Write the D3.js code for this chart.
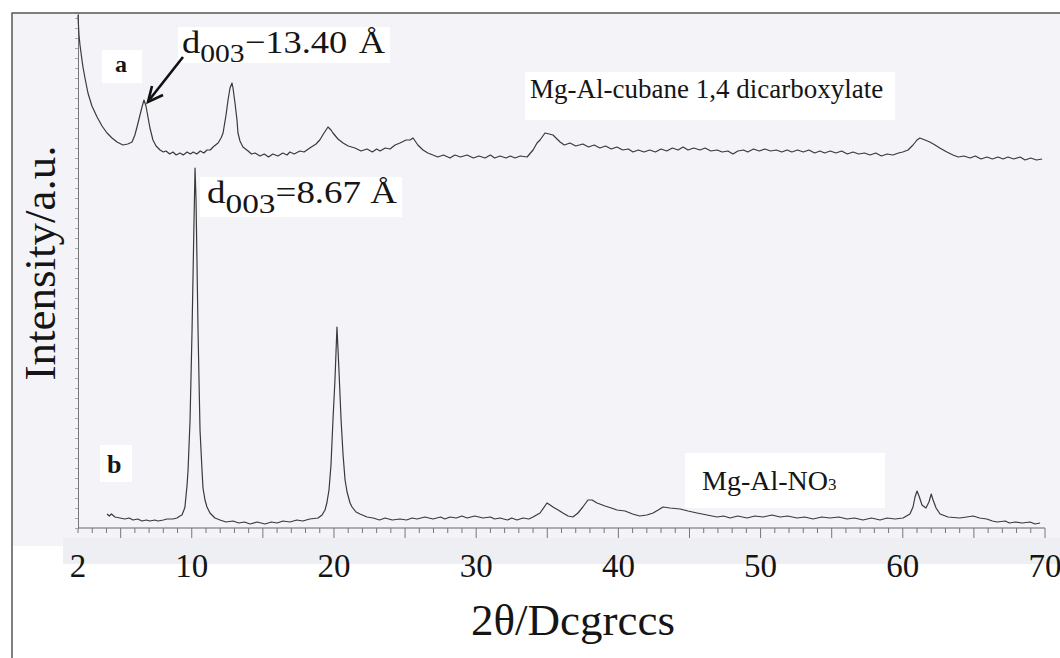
<!DOCTYPE html>
<html>
<head>
<meta charset="utf-8">
<script src="https://cdn.jsdelivr.net/npm/d3@7"></script>
<style>
  body { margin: 0; background: #fff; }
  svg { display: block; }
  text { font-family: "Liberation Serif", "Times New Roman", serif; fill: #151515; }
</style>
</head>
<body>
<div id="chart"></div>
<script>
// XRD pattern a : Mg-Al-cubane 1,4 dicarboxylate  [2theta, intensity a.u.]
var patternA = [
  [2.0,513],[2.02,506],[2.07,493],[2.14,483],[2.28,468],[2.35,461],[2.49,450],[2.70,435],[2.98,422],
  [3.34,411],[3.69,402],[4.04,395],[4.39,390],[4.74,386],[5.16,383],[5.5,384],[5.8,386],[6.0,393],
  [6.15,401],[6.36,413],[6.5,421],[6.64,428],[6.78,422],[6.92,411],[7.06,400],[7.27,388],[7.49,382],
  [7.77,378],[8.0,376],[8.19,377],[8.45,374],[8.68,376],[8.9,373],[9.17,375],[9.4,373],[9.67,376],
  [9.9,374],[10.1,376],[10.35,374],[10.6,377],[10.85,375],[11.07,378],[11.3,378],[11.5,381],
  [11.85,385],[12.06,390],[12.2,395],[12.41,413],[12.55,428],[12.69,440],[12.83,445],[12.9,440],
  [13.04,425],[13.18,408],[13.25,395],[13.39,387],[13.6,381],[13.96,377],[14.2,374],[14.45,375],
  [14.8,372],[15.1,374],[15.4,371],[15.7,374],[16.06,372],[16.4,375],[16.7,373],[16.9,376],[17.2,374],
  [17.6,377],[17.9,376],[18.3,380],[18.74,384],[19.0,388],[19.3,395],[19.58,401],[19.79,398],
  [19.93,395],[20.28,389],[20.64,385],[21.0,382],[21.48,380],[21.9,377],[22.32,379],[22.7,376],
  [23.0,379],[23.24,377],[23.6,380],[23.94,379],[24.3,383],[24.64,385],[25.07,388],[25.35,388],
  [25.56,390],[25.9,383],[26.26,378],[26.6,375],[26.96,373],[27.3,371],[27.7,373],[28.16,370],
  [28.5,373],[28.9,371],[29.36,373],[29.8,370],[30.2,372],[30.62,370],[31.0,373],[31.3,370],
  [31.68,372],[32.1,370],[32.4,372],[32.73,370],[33.1,372],[33.58,371],[34.0,378],[34.28,385],
  [34.49,388],[34.84,395],[35.13,394],[35.4,393],[35.9,386],[36.2,383],[36.6,385],[37.0,382],
  [37.5,384],[37.9,381],[38.3,383],[38.7,380],[39.1,382],[39.5,379],[39.9,381],[40.3,378],
  [40.7,379],[41.03,376],[41.4,378],[41.8,376],[42.2,378],[42.6,376],[43.0,379],[43.4,377],
  [43.8,380],[44.2,378],[44.55,381],[44.9,378],[45.3,380],[45.74,378],[46.1,380],[46.5,377],
  [46.94,378],[47.3,376],[47.7,377],[48.06,374],[48.4,377],[48.8,378],[49.1,376],[49.5,379],
  [49.9,377],[50.3,379],[50.7,377],[51.1,378],[51.5,376],[51.86,378],[52.2,376],[52.6,378],
  [53.0,376],[53.4,378],[53.8,375],[54.18,377],[54.5,375],[54.9,377],[55.3,375],[55.7,377],
  [56.1,374],[56.5,376],[56.9,374],[57.3,375],[57.7,373],[58.1,375],[58.5,372],[58.9,374],
  [59.3,373],[59.7,375],[60.0,376],[60.37,378],[60.72,383],[61.0,388],[61.2,390],[61.56,388],
  [61.9,386],[62.27,383],[62.6,380],[63.1,376],[63.53,373],[63.9,371],[64.3,372],[64.73,370],
  [65.1,372],[65.5,369],[65.92,371],[66.3,369],[66.7,371],[67.05,369],[67.4,371],[67.8,369],
  [68.25,371],[68.6,368],[69.0,370],[69.4,368],[69.8,369]
];

// XRD pattern b : Mg-Al-NO3
var patternB = [
  [4.04,14],[4.2,12],[4.35,14],[4.6,11],[4.95,10],[5.3,9],[5.6,10],[5.87,8],[6.2,9],[6.5,7],
  [6.8,8],[7.06,7],[7.4,8],[7.63,7],[8.0,8],[8.26,9],[8.68,9],[8.96,10],[9.17,12],[9.31,13],
  [9.45,18],[9.52,21],[9.67,43],[9.74,58],[9.88,108],[10.02,198],[10.16,308],[10.23,360],[10.3,328],
  [10.44,198],[10.58,98],[10.72,58],[10.79,40],[10.93,28],[11.07,21],[11.28,15],[11.63,10],[11.99,8],
  [12.4,6],[12.9,7],[13.3,5],[13.7,6],[14.1,4],[14.6,6],[15.15,4],[15.6,6],[16.0,5],[16.42,7],
  [16.9,6],[17.4,8],[17.8,7],[18.3,9],[18.88,10],[19.16,13],[19.37,18],[19.5,25],[19.65,38],
  [19.79,63],[19.93,108],[20.07,148],[20.21,201],[20.35,158],[20.5,108],[20.64,73],[20.78,48],
  [20.92,36],[21.13,25],[21.27,21],[21.55,16],[21.83,14],[22.32,11],[22.75,10],[23.2,8],[23.6,10],
  [24.1,8],[24.64,9],[25.1,8],[25.5,10],[25.84,9],[26.4,11],[26.96,9],[27.5,11],[27.8,9],[28.16,11],
  [28.6,10],[29.0,12],[29.36,10],[29.9,12],[30.48,10],[31.0,11],[31.3,9],[31.68,10],[32.2,8],
  [32.5,10],[32.87,8],[33.3,10],[33.7,9],[34.0,11],[34.49,15],[34.98,25],[35.2,23],[35.4,21],
  [35.76,18],[36.1,15],[36.46,12],[36.8,11],[37.16,15],[37.5,21],[37.86,28],[38.15,28],[38.5,25],
  [39.06,22],[39.5,20],[39.9,18],[40.47,17],[41.0,14],[41.5,12],[42.0,13],[42.44,15],[42.8,18],
  [43.14,21],[43.63,20],[44.34,19],[44.9,17],[45.53,15],[46.23,13],[46.94,11],[47.4,12],[47.85,10],
  [48.4,12],[49.05,10],[49.6,12],[50.17,11],[50.8,13],[51.37,11],[51.9,12],[52.56,10],[53.1,11],
  [53.69,9],[54.3,11],[54.88,10],[55.5,11],[56.08,9],[56.6,10],[57.2,8],[57.8,10],[58.4,8],
  [58.9,10],[59.45,9],[60.02,10],[60.5,14],[60.72,21],[60.86,31],[61.0,37],[61.14,32],[61.35,23],
  [61.63,20],[61.84,26],[62.0,34],[62.13,28],[62.34,20],[62.62,14],[63.18,11],[64.0,10],[64.5,11],
  [64.94,12],[65.4,10],[65.9,9],[66.3,7],[66.63,6],[67.2,7],[67.5,5],[67.9,6],[68.4,5],[68.95,6],
  [69.3,4],[69.65,5]
];

var xTickLabels = [2, 10, 20, 30, 40, 50, 60, 70];
var xTitle = "2\u03B8/Dcgrccs";
var yTitle = "Intensity/a.u.";

var width = 1060, height = 658;

var svg = d3.select("#chart").append("svg")
    .attr("width", width).attr("height", height);

var x = d3.scaleLinear().domain([2, 70]).range([78, 1045]);
var y = d3.scaleLinear().domain([0, 515]).range([528, 13]);

// scanned page background
svg.append("rect").attr("x", 13).attr("y", 14).attr("width", width - 13).attr("height", 532)
    .attr("fill", "#f4f4f8");
svg.append("rect").attr("x", 63).attr("y", 538).attr("width", width - 63).attr("height", 26)
    .attr("fill", "#eeeff2");

// frame (top + left)
svg.append("path").attr("d", "M12,658 V13 H1060")
    .attr("fill", "none").attr("stroke", "#555").attr("stroke-width", 1.5);

// x axis : minor every degree, major every 5
var xAxisG = svg.append("g").attr("transform", "translate(0," + y(0) + ")");
xAxisG.append("line").attr("x1", x(2)).attr("x2", x(70)).attr("stroke", "#666").attr("stroke-width", 1);
xAxisG.selectAll("line.tk").data(d3.range(2, 71)).enter().append("line")
    .attr("class", "tk")
    .attr("x1", function(d) { return x(d); }).attr("x2", function(d) { return x(d); })
    .attr("y1", 0).attr("y2", function(d) { return d % 5 == 0 ? 10 : 5; })
    .attr("stroke", "#777").attr("stroke-width", 1);

svg.selectAll("text.xtl").data(xTickLabels).enter().append("text")
    .attr("class", "xtl")
    .attr("x", function(d) { return x(d); }).attr("y", 577)
    .attr("text-anchor", "middle").attr("font-size", 33)
    .text(function(d) { return d; });

// y axis with small ticks, no labels
var yAxis = d3.axisLeft(y).tickValues(d3.range(0, 516, 10)).tickSize(3).tickFormat("");
var yAxisG = svg.append("g").attr("transform", "translate(" + x(2) + ",0)").call(yAxis);
yAxisG.select(".domain").attr("stroke", "#777");
yAxisG.selectAll(".tick line").attr("stroke", "#aaa");

// axis titles
svg.append("text").attr("x", 573).attr("y", 635).attr("text-anchor", "middle")
    .attr("font-size", 45).text(xTitle);
svg.append("text").attr("transform", "translate(55,263) rotate(-90)")
    .attr("text-anchor", "middle").attr("font-size", 45).text(yTitle);

// the two patterns
var line = d3.line().x(function(d) { return x(d[0]); }).y(function(d) { return y(d[1]); });
[patternA, patternB].forEach(function(p) {
    svg.append("path").datum(p).attr("d", line)
        .attr("fill", "none").attr("stroke", "#3a3a3a").attr("stroke-width", 1.2)
        .attr("stroke-linejoin", "round");
});

// white label boxes
function box(x0, y0, w, h) {
    svg.append("rect").attr("x", x0).attr("y", y0).attr("width", w).attr("height", h).attr("fill", "#fff");
}
box(102, 50, 40, 33);
box(100, 445, 32, 37);
box(178, 27, 212, 36);
box(200, 177, 202, 40);
box(525, 72, 370, 48);
box(685, 453, 200, 55);

svg.append("text").attr("x", 115).attr("y", 72).attr("font-size", 24).attr("font-weight", "bold").text("a");
svg.append("text").attr("x", 107).attr("y", 473).attr("font-size", 26).attr("font-weight", "bold").text("b");

// d-spacing labels
var t1 = svg.append("text").attr("x", 182).attr("y", 53).attr("font-size", 32)
    .attr("textLength", 203).attr("lengthAdjust", "spacingAndGlyphs");
t1.append("tspan").text("d");
t1.append("tspan").attr("dy", 9).attr("font-size", 26).text("003");
t1.append("tspan").attr("dy", -9).text("\u221213.40");
t1.append("tspan").attr("dx", 10).text("\u00C5");

var t2 = svg.append("text").attr("x", 207).attr("y", 203).attr("font-size", 31)
    .attr("textLength", 190).attr("lengthAdjust", "spacingAndGlyphs");
t2.append("tspan").text("d");
t2.append("tspan").attr("dy", 10).attr("font-size", 28).text("003");
t2.append("tspan").attr("dy", -10).text("=8.67 \u00C5");

svg.append("text").attr("x", 530).attr("y", 98).attr("font-size", 27).text("Mg-Al-cubane 1,4 dicarboxylate");

var t3 = svg.append("text").attr("x", 702).attr("y", 490).attr("font-size", 28);
t3.append("tspan").text("Mg-Al-NO");
t3.append("tspan").attr("font-size", 17).text("3");

// arrow pointing at the first peak of a
svg.append("line").attr("x1", 183).attr("y1", 57).attr("x2", 150).attr("y2", 99)
    .attr("stroke", "#111").attr("stroke-width", 2.6);
svg.append("path").attr("d", "M152,86 L148,102 L163,95")
    .attr("fill", "none").attr("stroke", "#111").attr("stroke-width", 2.6);
</script>
</body>
</html>
